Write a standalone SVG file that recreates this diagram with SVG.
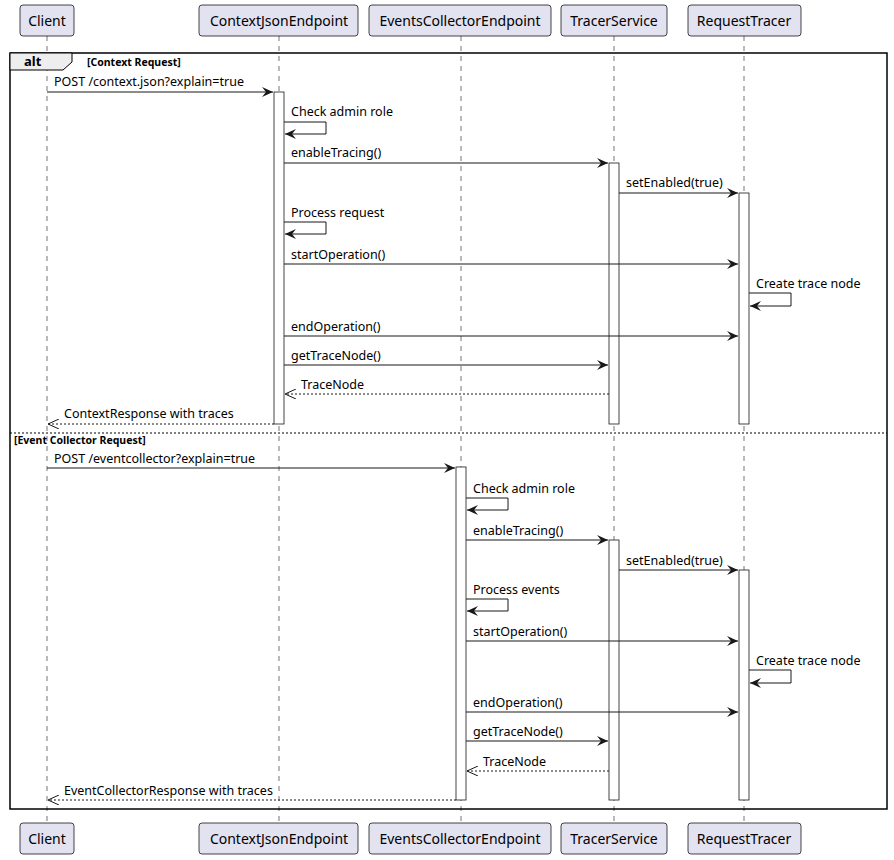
<svg xmlns="http://www.w3.org/2000/svg" width="894" height="860" viewBox="0 0 894 860">
<defs>
<style>
text{font-family:"Noto Sans","DejaVu Sans",sans-serif;font-size:12.5px;fill:#000}
.p{fill:#E2E2F0;stroke:#181818;stroke-width:0.8}
.pt{font-size:14px;text-anchor:middle}
.ll{stroke:#181818;stroke-width:0.6;stroke-dasharray:5,5}
.act{fill:#fff;stroke:#181818;stroke-width:0.8}
.m{stroke:#181818;stroke-width:1;fill:none}
.r{stroke:#181818;stroke-width:1;fill:none;stroke-dasharray:2,2}
.b{font-weight:bold;font-size:10.5px}
</style>
<marker id="a" markerWidth="12" markerHeight="10" refX="11" refY="5" orient="auto" markerUnits="userSpaceOnUse"><path d="M0,0 L11,5 L0,10 L4,5 Z" fill="#181818"/></marker>
<marker id="o" markerWidth="12" markerHeight="10" refX="11" refY="5" orient="auto" markerUnits="userSpaceOnUse"><path d="M0,0 L11,5 L0,10" fill="none" stroke="#181818"/></marker>
</defs>
<rect width="894" height="860" fill="#fff"/>
<g id="lifelines">
<line class="ll" x1="47" y1="36" x2="47" y2="823"/>
<line class="ll" x1="279" y1="36" x2="279" y2="823"/>
<line class="ll" x1="461" y1="36" x2="461" y2="823"/>
<line class="ll" x1="614" y1="36" x2="614" y2="823"/>
<line class="ll" x1="744" y1="36" x2="744" y2="823"/>
</g>
<g id="frame">
<rect x="10" y="53" width="877" height="756" fill="none" stroke="#000" stroke-width="1.5"/>
<path d="M10,53 H72 V62 L63,70 H10 Z" fill="#EEEEEE" stroke="#000" stroke-width="1"/>
<text x="24" y="66" style="font-weight:bold;font-size:13px">alt</text>
<text class="b" x="87" y="66">[Context Request]</text>
<line x1="10" y1="433" x2="887" y2="433" stroke="#000" stroke-dasharray="2,2"/>
<text class="b" x="14" y="444">[Event Collector Request]</text>
</g>
<g id="activations">
<rect class="act" x="274" y="92" width="10" height="332"/>
<rect class="act" x="609" y="163" width="10" height="261"/>
<rect class="act" x="739" y="193" width="10" height="231"/>
<rect class="act" x="456" y="467" width="10" height="333"/>
<rect class="act" x="609" y="540" width="10" height="260"/>
<rect class="act" x="739" y="570" width="10" height="230"/>
</g>
<g id="connectors">
<line class="m" x1="47" y1="92" x2="273" y2="92" marker-end="url(#a)"/>
<text x="54" y="86">POST /context.json?explain=true</text>
<path class="m" d="M284,122 H326 V134 H285" marker-end="url(#a)"/>
<text x="291" y="116">Check admin role</text>
<line class="m" x1="284" y1="163" x2="608" y2="163" marker-end="url(#a)"/>
<text x="291" y="157">enableTracing()</text>
<line class="m" x1="619" y1="193" x2="738" y2="193" marker-end="url(#a)"/>
<text x="626" y="187">setEnabled(true)</text>
<path class="m" d="M284,222 H326 V234 H285" marker-end="url(#a)"/>
<text x="291" y="217">Process request</text>
<line class="m" x1="284" y1="264" x2="738" y2="264" marker-end="url(#a)"/>
<text x="291" y="259">startOperation()</text>
<path class="m" d="M749,293 H791 V306 H750" marker-end="url(#a)"/>
<text x="756" y="288">Create trace node</text>
<line class="m" x1="284" y1="336" x2="738" y2="336" marker-end="url(#a)"/>
<text x="291" y="331">endOperation()</text>
<line class="m" x1="284" y1="365" x2="608" y2="365" marker-end="url(#a)"/>
<text x="291" y="360">getTraceNode()</text>
<line class="r" x1="609" y1="394" x2="285" y2="394" marker-end="url(#o)"/>
<text x="301" y="389">TraceNode</text>
<line class="r" x1="274" y1="424" x2="48" y2="424" marker-end="url(#o)"/>
<text x="64" y="418">ContextResponse with traces</text>

<line class="m" x1="47" y1="468" x2="455" y2="468" marker-end="url(#a)"/>
<text x="54" y="463">POST /eventcollector?explain=true</text>
<path class="m" d="M466,498 H508 V510 H467" marker-end="url(#a)"/>
<text x="473" y="493">Check admin role</text>
<line class="m" x1="466" y1="540" x2="608" y2="540" marker-end="url(#a)"/>
<text x="473" y="535">enableTracing()</text>
<line class="m" x1="619" y1="570" x2="738" y2="570" marker-end="url(#a)"/>
<text x="626" y="565">setEnabled(true)</text>
<path class="m" d="M466,599 H508 V611 H467" marker-end="url(#a)"/>
<text x="473" y="594">Process events</text>
<line class="m" x1="466" y1="641" x2="738" y2="641" marker-end="url(#a)"/>
<text x="473" y="636">startOperation()</text>
<path class="m" d="M749,670 H791 V683 H750" marker-end="url(#a)"/>
<text x="756" y="665">Create trace node</text>
<line class="m" x1="466" y1="712" x2="738" y2="712" marker-end="url(#a)"/>
<text x="473" y="707">endOperation()</text>
<line class="m" x1="466" y1="741" x2="608" y2="741" marker-end="url(#a)"/>
<text x="473" y="736">getTraceNode()</text>
<line class="r" x1="609" y1="771" x2="467" y2="771" marker-end="url(#o)"/>
<text x="483" y="766">TraceNode</text>
<line class="r" x1="456" y1="800" x2="48" y2="800" marker-end="url(#o)"/>
<text x="64" y="795">EventCollectorResponse with traces</text>
</g>
<g id="p-client"><rect class="p" x="20" y="5" width="54" height="31" rx="3"/><rect class="p" x="20" y="823" width="54" height="31" rx="3"/><text class="pt" x="47" y="26">Client</text><text class="pt" x="47" y="844">Client</text></g>
<g id="p-cje"><rect class="p" x="199" y="5" width="159" height="31" rx="3"/><rect class="p" x="199" y="823" width="159" height="31" rx="3"/><text class="pt" x="279" y="26">ContextJsonEndpoint</text><text class="pt" x="279" y="844">ContextJsonEndpoint</text></g>
<g id="p-ece"><rect class="p" x="369" y="5" width="182" height="31" rx="3"/><rect class="p" x="369" y="823" width="182" height="31" rx="3"/><text class="pt" x="460" y="26">EventsCollectorEndpoint</text><text class="pt" x="460" y="844">EventsCollectorEndpoint</text></g>
<g id="p-ts"><rect class="p" x="561" y="5" width="106" height="31" rx="3"/><rect class="p" x="561" y="823" width="106" height="31" rx="3"/><text class="pt" x="614" y="26">TracerService</text><text class="pt" x="614" y="844">TracerService</text></g>
<g id="p-rt"><rect class="p" x="688" y="5" width="113" height="31" rx="3"/><rect class="p" x="688" y="823" width="113" height="31" rx="3"/><text class="pt" x="744" y="26">RequestTracer</text><text class="pt" x="744" y="844">RequestTracer</text></g>
</svg>
